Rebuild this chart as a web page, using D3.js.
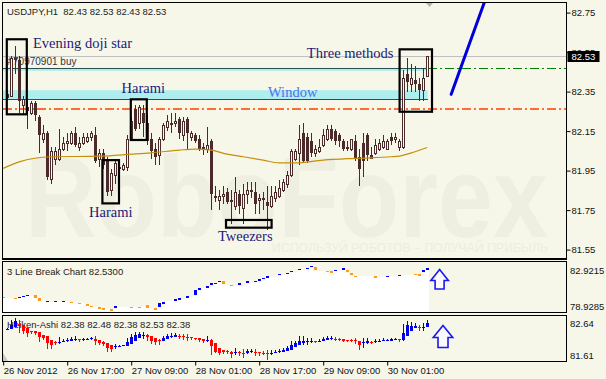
<!DOCTYPE html>
<html>
<head>
<meta charset="utf-8">
<script src="https://cdn.jsdelivr.net/npm/d3@7/dist/d3.min.js"></script>
<style>
  body { margin: 0; background: #f7f7e9; }
  svg { display: block; font-family: "Liberation Sans", Arial, sans-serif; }
</style>
</head>
<body>
<div id="chart"></div>
<script>
// USDJPY H1, bar 0 = 26 Nov 2012 01:00, one bar per hour. candles start at bar 1
const opens = [82.34,82.33,82.52,82.51,82.28,82.27,82.24,82.29,82.22,82.11,82.14,81.91,82.01,82.01,82.06,82.09,82.09,82.14,82.07,82.09,
  82.10,82.12,82.13,82.01,82.04,82.00,81.85,81.93,81.97,81.96,81.97,82.11,82.26,82.19,82.24,82.19,82.11,82.06,82.03,82.11,
  82.17,82.19,82.19,82.21,82.13,82.21,82.12,82.13,82.11,82.07,82.06,82.10,81.82,81.80,81.82,81.84,81.80,81.77,81.83,81.76,
  81.83,81.85,81.84,81.80,81.81,81.79,81.77,81.81,81.82,81.85,81.88,81.93,82.01,82.04,82.14,82.12,82.10,82.04,82.05,82.08,
  82.11,82.16,82.15,82.13,82.10,82.07,82.06,82.10,82.02,82.09,82.13,82.03,82.04,82.06,82.07,82.06,82.12,82.11,82.07,82.07,
  82.44,82.39,82.41,82.39,82.36,82.43];
const highs = [82.36,82.53,82.58,82.53,82.33,82.30,82.30,82.30,82.23,82.18,82.15,82.07,82.07,82.16,82.12,82.14,82.15,82.17,82.12,82.14,
  82.14,82.15,82.17,82.06,82.06,82.02,81.96,82.01,81.99,81.99,82.13,82.22,82.28,82.28,82.28,82.23,82.14,82.09,82.12,82.19,
  82.23,82.24,82.24,82.22,82.22,82.22,82.15,82.14,82.13,82.09,82.17,82.11,81.87,81.85,81.87,81.86,81.85,81.92,81.85,81.88,
  81.89,81.89,81.89,81.83,81.84,81.87,81.87,81.87,81.90,81.91,81.95,82.06,82.06,82.18,82.19,82.14,82.14,82.08,82.11,82.16,
  82.18,82.18,82.16,82.14,82.11,82.10,82.11,82.13,82.06,82.14,82.14,82.07,82.11,82.11,82.13,82.11,82.14,82.14,82.11,82.46,
  82.52,82.49,82.48,82.42,82.47,82.53];
const lows = [82.31,82.33,82.44,82.24,82.23,82.16,82.23,82.20,82.04,82.09,81.90,81.88,81.98,82.00,82.05,82.05,82.08,82.07,82.05,82.08,
  82.09,82.10,81.99,81.97,81.96,81.82,81.82,81.88,81.94,81.95,81.95,82.10,82.15,82.16,82.12,82.08,82.01,81.98,81.98,82.10,
  82.15,82.14,82.17,82.11,82.10,82.06,82.10,82.09,82.05,82.03,82.04,81.75,81.79,81.75,81.78,81.78,81.68,81.75,81.73,81.68,
  81.78,81.81,81.73,81.73,81.75,81.65,81.76,81.79,81.81,81.84,81.86,81.92,82.00,81.98,81.99,81.99,82.02,82.02,82.04,82.07,
  82.10,82.10,82.08,82.07,82.05,82.05,82.05,82.00,81.87,81.92,82.00,82.01,82.03,82.05,82.06,82.06,82.08,82.09,82.05,82.06,
  82.35,82.35,82.35,82.30,82.30,82.43];
const closes = [82.32,82.52,82.51,82.30,82.31,82.25,82.29,82.23,82.13,82.14,81.92,82.05,82.05,82.06,82.09,82.10,82.14,82.08,82.09,82.12,
  82.12,82.14,82.00,82.04,81.98,81.84,81.94,81.99,81.96,81.98,82.11,82.20,82.16,82.27,82.19,82.10,82.05,82.02,82.11,82.18,
  82.20,82.18,82.20,82.14,82.20,82.14,82.14,82.10,82.06,82.06,82.08,81.83,81.81,81.82,81.83,81.79,81.79,81.84,81.77,81.83,
  81.85,81.84,81.78,81.81,81.80,81.77,81.82,81.84,81.86,81.89,81.93,82.05,82.05,82.11,82.00,82.00,82.04,82.06,82.07,82.13,
  82.16,82.11,82.10,82.10,82.06,82.06,82.11,82.01,81.96,82.00,82.03,82.01,82.08,82.09,82.10,82.10,82.10,82.12,82.10,82.42,
  82.40,82.42,82.39,82.36,82.42,82.53];

// moving average at a few bars
const maBars = [0,4,12,24,32,37,44,48,52,56,60,65,69,73,80,88,97,99,102,106];
const maVals = [81.961,81.994,82.020,82.023,82.033,82.040,82.054,82.059,82.054,82.033,82.020,82.003,81.989,81.989,82.003,82.012,82.020,82.023,82.040,82.067];

// 3 line break window, bars 0..106: brick top, brick bottom, direction (1 up, -1 down, 0 none)
const lbTop = [80.09,80.09,80.09,80.03,80.11,80.19,80.25,80.25,80.25,80.03,79.79,79.77,79.77,79.79,79.79,79.79,79.79,79.71,79.71,79.63,
  79.63,79.53,79.39,79.34,79.26,79.18,79.18,79.13,79.39,79.31,79.31,79.31,79.31,79.31,79.31,79.31,79.45,79.23,79.18,79.61,
  79.71,79.79,79.79,79.90,79.97,79.97,80.19,80.11,80.65,80.81,80.81,80.96,81.21,81.22,81.36,81.31,81.10,81.04,81.04,81.18,
  81.04,81.31,81.31,81.36,81.48,81.60,81.71,81.71,81.71,81.90,81.84,81.98,82.16,82.10,82.30,82.25,82.38,82.56,82.43,82.22,
  82.20,82.16,82.12,82.24,82.24,82.38,82.24,81.98,81.76,81.76,81.76,81.76,81.76,81.71,81.71,81.71,81.76,81.76,81.76,81.84,
  81.84,81.84,81.84,81.92,81.88,82.24,82.38];
const lbBot = [80.09,80.09,80.09,80.03,80.11,80.19,80.25,80.25,80.03,79.79,79.79,79.77,79.77,79.79,79.79,79.79,79.79,79.71,79.71,79.63,
  79.63,79.39,79.34,79.34,79.26,79.18,79.18,79.13,79.18,79.31,79.31,79.31,79.31,79.31,79.31,79.31,79.23,79.23,79.18,79.26,
  79.53,79.79,79.79,79.90,79.97,79.97,80.03,80.11,80.25,80.65,80.81,80.81,81.04,81.22,81.31,81.10,81.10,81.04,81.04,80.99,
  81.04,81.31,81.31,81.36,81.44,81.52,81.71,81.71,81.71,81.79,81.84,81.98,82.06,82.10,82.19,82.25,82.38,82.43,82.22,82.22,
  82.20,82.16,82.12,82.16,82.24,82.24,82.06,81.79,81.76,81.76,81.76,81.76,81.76,81.71,81.71,81.71,81.76,81.76,81.76,81.84,
  81.84,81.84,81.84,81.92,81.88,82.06,82.24];
const lbDir = [-1,0,0,-1,1,1,1,0,-1,-1,0,1,0,1,0,1,0,-1,0,-1,
  0,-1,-1,0,-1,-1,0,-1,1,0,0,0,-1,0,-1,0,-1,0,-1,1,
  1,0,0,1,1,0,1,0,1,1,0,1,1,1,1,-1,0,-1,0,1,
  0,1,0,1,1,1,1,0,0,1,0,1,1,0,1,0,1,1,-1,0,
  0,-1,-1,1,0,1,-1,-1,-1,0,0,0,0,-1,0,0,1,0,0,1,
  0,0,0,-1,-1,1,1];

const priceTicks = [82.75, 82.55, 82.35, 82.15, 81.95, 81.75, 81.55];
const timeTickBars = [0, 16, 32, 48, 64, 80, 96];
const timeTickLabels = ["26 Nov 2012", "26 Nov 17:00", "27 Nov 09:00", "28 Nov 01:00", "28 Nov 17:00", "29 Nov 09:00", "30 Nov 01:00"];

// price levels and chart objects (bar index / price)
const bidPrice = 82.53;
const orderPrice = 82.47;
const stopPrice = 82.26;
const bands = [[82.455, 82.47], [82.31, 82.357]];
const trend = [[112, 82.336], [121, 82.842]];
const boxes = [
  { i0: 0.9, i1: 5.9, p0: 82.615, p1: 82.235 },
  { i0: 31.9, i1: 35.9, p0: 82.311, p1: 82.105 },
  { i0: 24.8, i1: 28.95, p0: 82.003, p1: 81.784 },
  { i0: 55.7, i1: 67.1, p0: 81.700, p1: 81.661 },
  { i0: 99.1, i1: 107.2, p0: 82.564, p1: 82.248 }
];
const notes = [
  { text: "Evening doji star", i: 7.45, p: 82.571, color: "#1d1a7a" },
  { text: "Harami", i: 29.6, p: 82.341, color: "#1d1a7a" },
  { text: "Harami", i: 21.45, p: 81.717, color: "#1d1a7a" },
  { text: "Window", i: 66.2, p: 82.321, color: "#4f70ea" },
  { text: "Three methods", i: 75.9, p: 82.518, color: "#1d1a7a" },
  { text: "Tweezers", i: 53.7, p: 81.595, color: "#1d1a7a" }
];

const W = 606, H = 379;
const right = 566.5;
const dark = "#4a2a2a";
const px = v => Math.round(v) + 0.5;

const svg = d3.select("#chart").append("svg")
    .attr("width", W)
    .attr("height", H);

const x = d3.scaleLinear().domain([0, 106]).range([3.2, 427.2]);
const y = d3.scaleLinear().domain([81.55, 82.75]).range([249.6, 12.6]);
const y2 = d3.scaleLinear().domain([78.9285, 82.9215]).range([312.3, 261.7]);
const y3 = d3.scaleLinear().domain([81.61, 82.64]).range([361.5, 315.5]);

const bars = opens.map((o, k) => ({ i: k + 1, o: o, h: highs[k], l: lows[k], c: closes[k] }));

svg.append("rect").attr("width", W).attr("height", H).attr("fill", "#f7f7e9");

const defs = svg.append("defs");
defs.append("clipPath").attr("id", "mainClip")
  .append("rect").attr("x", 3).attr("y", 3).attr("width", right - 3).attr("height", 256);
defs.append("clipPath").attr("id", "p2Clip")
  .append("rect").attr("x", 3).attr("y", 262).attr("width", right - 3).attr("height", 50);
defs.append("clipPath").attr("id", "p3Clip")
  .append("rect").attr("x", 3).attr("y", 316).attr("width", right - 3).attr("height", 45);

// ---------- main panel ----------
const main = svg.append("g").attr("clip-path", "url(#mainClip)");

main.append("text")
    .attr("x", 25).attr("y", 237)
    .attr("font-size", 115).attr("font-weight", "bold")
    .attr("textLength", 523).attr("lengthAdjust", "spacingAndGlyphs")
    .attr("fill", "#efefe1")
    .text("RoboForex");
main.append("text")
    .attr("x", 272).attr("y", 252)
    .attr("font-size", 12)
    .attr("textLength", 276).attr("lengthAdjust", "spacingAndGlyphs")
    .attr("fill", "#ededdf")
    .text("ИСПОЛЬЗУЙ РОБОТОВ – ПОЛУЧАЙ ПРИБЫЛЬ");

main.selectAll(".band").data(bands).enter().append("rect")
    .attr("x", 3).attr("width", x(106) + 0.5 - 3)
    .attr("y", d => y(d[1])).attr("height", d => y(d[0]) - y(d[1]))
    .attr("fill", "#aeeeee");

main.append("line")
    .attr("x1", 3).attr("x2", right).attr("y1", px(y(bidPrice))).attr("y2", px(y(bidPrice)))
    .attr("stroke", "#c0c0c0");
main.append("line")
    .attr("x1", 3).attr("x2", right).attr("y1", px(y(orderPrice))).attr("y2", px(y(orderPrice)))
    .attr("stroke", "#008000").attr("stroke-dasharray", "9,3,2,3")
    .attr("shape-rendering", "crispEdges");
main.append("line")
    .attr("x1", 3).attr("x2", right).attr("y1", Math.round(y(stopPrice))).attr("y2", Math.round(y(stopPrice)))
    .attr("stroke", "#ff4000").attr("stroke-width", 1.6).attr("stroke-dasharray", "9,3,2,3");
[orderPrice, bands[1][0]].forEach(p => {
  main.append("line")
      .attr("x1", 3).attr("x2", x(106) + 0.5).attr("y1", px(y(p))).attr("y2", px(y(p)))
      .attr("stroke", "#2f4f4f").attr("shape-rendering", "crispEdges");
});

main.append("text")
    .attr("x", 7.5).attr("y", y(orderPrice) - 2.5)
    .attr("font-size", 10).attr("fill", "#334")
    .text("#70970901 buy");

// candles
const candle = main.append("g").attr("shape-rendering", "crispEdges");
bars.forEach(d => {
  const xp = Math.round(x(d.i));
  candle.append("line")
      .attr("x1", xp + 0.5).attr("x2", xp + 0.5)
      .attr("y1", y(d.h)).attr("y2", y(d.l))
      .attr("stroke", dark);
  const top = Math.round(y(Math.max(d.o, d.c)));
  const bot = Math.round(y(Math.min(d.o, d.c)));
  if (d.c > d.o) {
    candle.append("rect")
        .attr("x", xp - 0.5).attr("width", 2)
        .attr("y", top + 0.5).attr("height", Math.max(1, bot - top))
        .attr("fill", "#fbfbf2").attr("stroke", dark);
  } else {
    candle.append("rect")
        .attr("x", xp - 1).attr("width", 3)
        .attr("y", top).attr("height", Math.max(1, bot - top))
        .attr("fill", dark);
  }
});

// moving average
const maLine = d3.line()
    .x(d => x(d[0]))
    .y(d => y(d[1]))
    .curve(d3.curveMonotoneX);
main.append("path")
    .datum(maBars.map((b, k) => [b, maVals[k]]))
    .attr("d", maLine)
    .attr("fill", "none").attr("stroke", "#c4900c").attr("stroke-width", 1.2);

// pattern boxes
main.selectAll(".box").data(boxes).enter().append("rect")
    .attr("x", d => x(d.i0)).attr("width", d => x(d.i1) - x(d.i0))
    .attr("y", d => y(d.p0)).attr("height", d => y(d.p1) - y(d.p0))
    .attr("fill", "none").attr("stroke", "#000").attr("stroke-width", 2.2);

main.selectAll(".note").data(notes).enter().append("text")
    .attr("x", d => x(d.i)).attr("y", d => y(d.p))
    .style("font-family", "'Liberation Serif', 'Times New Roman', serif")
    .attr("font-size", 14.5)
    .attr("fill", d => d.color)
    .text(d => d.text);

// forecast line
main.append("line")
    .attr("x1", x(trend[0][0])).attr("y1", y(trend[0][1]))
    .attr("x2", x(trend[1][0])).attr("y2", y(trend[1][1]))
    .attr("stroke", "#0000dd").attr("stroke-width", 3).attr("stroke-linecap", "round");

// chart shift marker
main.append("path")
    .attr("d", "M426,3 L433,3 L429.5,7 Z")
    .attr("fill", "#b4b4b4");

main.append("text")
    .attr("x", 7).attr("y", 14.5)
    .attr("font-size", 9.5).attr("fill", "#222")
    .style("white-space", "pre")
    .text("USDJPY,H1  82.43 82.53 82.43 82.53");

// price axis
const yAxis = d3.axisRight(y).tickValues(priceTicks).tickSize(4).tickPadding(1).tickFormat(d3.format(".2f"));
const ya = svg.append("g").attr("transform", `translate(${right},0)`).call(yAxis);
ya.select(".domain").remove();
ya.selectAll("line").attr("stroke", "#000");
ya.selectAll("text").attr("font-size", 9.5).attr("fill", "#111").style("font-family", "'Liberation Sans', Arial, sans-serif");

const bidY = px(y(bidPrice));
svg.append("rect")
    .attr("x", 567.5).attr("y", bidY - 5.5).attr("width", 32).attr("height", 11)
    .attr("fill", "#000");
svg.append("text")
    .attr("x", 571.5).attr("y", bidY + 3.5)
    .attr("font-size", 9.5).attr("fill", "#fff")
    .text(d3.format(".2f")(bidPrice));

// ---------- 3 line break panel ----------
const p2 = svg.append("g").attr("clip-path", "url(#p2Clip)").attr("shape-rendering", "crispEdges");
const lb = lbTop.map((t, k) => ({ i: k, t: t, b: lbBot[k], d: lbDir[k] }));
p2.selectAll(".lbw").data(lb).enter().append("rect")
    .attr("x", d => x(d.i) - 2).attr("width", 4)
    .attr("y", d => y2(d.b)).attr("height", d => 312.3 - y2(d.b))
    .attr("fill", "#ffffff");
p2.selectAll(".lbm").data(lb.filter(d => d.d !== 0)).enter().append("rect")
    .attr("x", d => x(d.i) - 1.5).attr("width", 3.5)
    .attr("y", d => y2(d.t) - 0.7).attr("height", d => Math.max(1.5, y2(d.b) - y2(d.t)))
    .attr("fill", d => d.d > 0 ? "#0000ff" : "#ff9b1a");

svg.append("text")
    .attr("x", 7).attr("y", 274.5)
    .attr("font-size", 9.5).attr("fill", "#222")
    .text("3 Line Break Chart 82.5300");

// ---------- Heiken-Ashi panel ----------
svg.append("text")
    .attr("x", 7).attr("y", 328)
    .attr("font-size", 9.5).attr("fill", "#222")
    .text("Heiken-Ashi 82.38 82.48 82.38 82.53 82.38");

const ha = [];
let prevO, prevC;
bars.forEach((d, k) => {
  const hc = (d.o + d.h + d.l + d.c) / 4;
  const ho = k === 0 ? (d.o + d.c) / 2 : (prevO + prevC) / 2;
  ha.push({ i: d.i, o: ho, c: hc, h: Math.max(d.h, ho, hc), l: Math.min(d.l, ho, hc) });
  prevO = ho; prevC = hc;
});

const p3 = svg.append("g").attr("clip-path", "url(#p3Clip)").attr("shape-rendering", "crispEdges");
ha.forEach(d => {
  const xp = Math.round(x(d.i));
  const col = d.c >= d.o ? "#0000e6" : "#ff0000";
  p3.append("line")
      .attr("x1", xp + 0.5).attr("x2", xp + 0.5)
      .attr("y1", y3(d.h)).attr("y2", y3(d.l))
      .attr("stroke", col);
  const top = y3(Math.max(d.o, d.c)), bot = y3(Math.min(d.o, d.c));
  p3.append("rect")
      .attr("x", xp - 1).attr("width", 3)
      .attr("y", top).attr("height", Math.max(1, bot - top))
      .attr("fill", col);
});
svg.append("path").attr("d", "M3,353 L3,361 L8,361 Z").attr("fill", "#c8c8c8");

// up arrows
function upArrow(cx, top, w, hh, sw, h) {
  return `M${cx},${top} L${cx + w / 2},${top + hh} L${cx + sw / 2},${top + hh} L${cx + sw / 2},${top + h} ` +
         `L${cx - sw / 2},${top + h} L${cx - sw / 2},${top + hh} L${cx - w / 2},${top + hh} Z`;
}
svg.append("path").attr("d", upArrow(x(109.1), 269.5, 17.5, 11, 9, 19.5))
    .attr("fill", "#fbfbff").attr("stroke", "#1818f0").attr("stroke-width", 1.6);
svg.append("path").attr("d", upArrow(x(109.95), 325.5, 19.5, 12, 10, 22))
    .attr("fill", "#fbfbff").attr("stroke", "#1818f0").attr("stroke-width", 1.6);

// panel scale labels
[["82.9215", 273.5], ["78.9285", 310], ["82.64", 326.5], ["81.61", 358.5]].forEach(t => {
  svg.append("text").attr("x", 570).attr("y", t[1])
      .attr("font-size", 9.5).attr("fill", "#111").text(t[0]);
});

// frames
const frame = svg.append("g").attr("fill", "none").attr("stroke", "#000").attr("shape-rendering", "crispEdges");
frame.append("rect").attr("x", 2.5).attr("y", 2.5).attr("width", right - 2.5).attr("height", 256.5).attr("stroke-width", 1.3);
frame.append("rect").attr("x", 2.5).attr("y", 261.5).attr("width", right - 2.5).attr("height", 51);
frame.append("rect").attr("x", 2.5).attr("y", 315.5).attr("width", right - 2.5).attr("height", 46);

// time axis
const xAxis = d3.axisBottom(x).tickValues(timeTickBars).tickSize(4).tickPadding(2)
    .tickFormat((d, k) => timeTickLabels[k]);
const xa = svg.append("g").attr("transform", "translate(0,361.5)").call(xAxis);
xa.select(".domain").remove();
xa.selectAll("line").attr("stroke", "#000");
xa.selectAll("text")
    .attr("text-anchor", "start").attr("dx", 0)
    .attr("font-size", 9.5).attr("fill", "#111").style("font-family", "'Liberation Sans', Arial, sans-serif");
</script>
</body>
</html>
